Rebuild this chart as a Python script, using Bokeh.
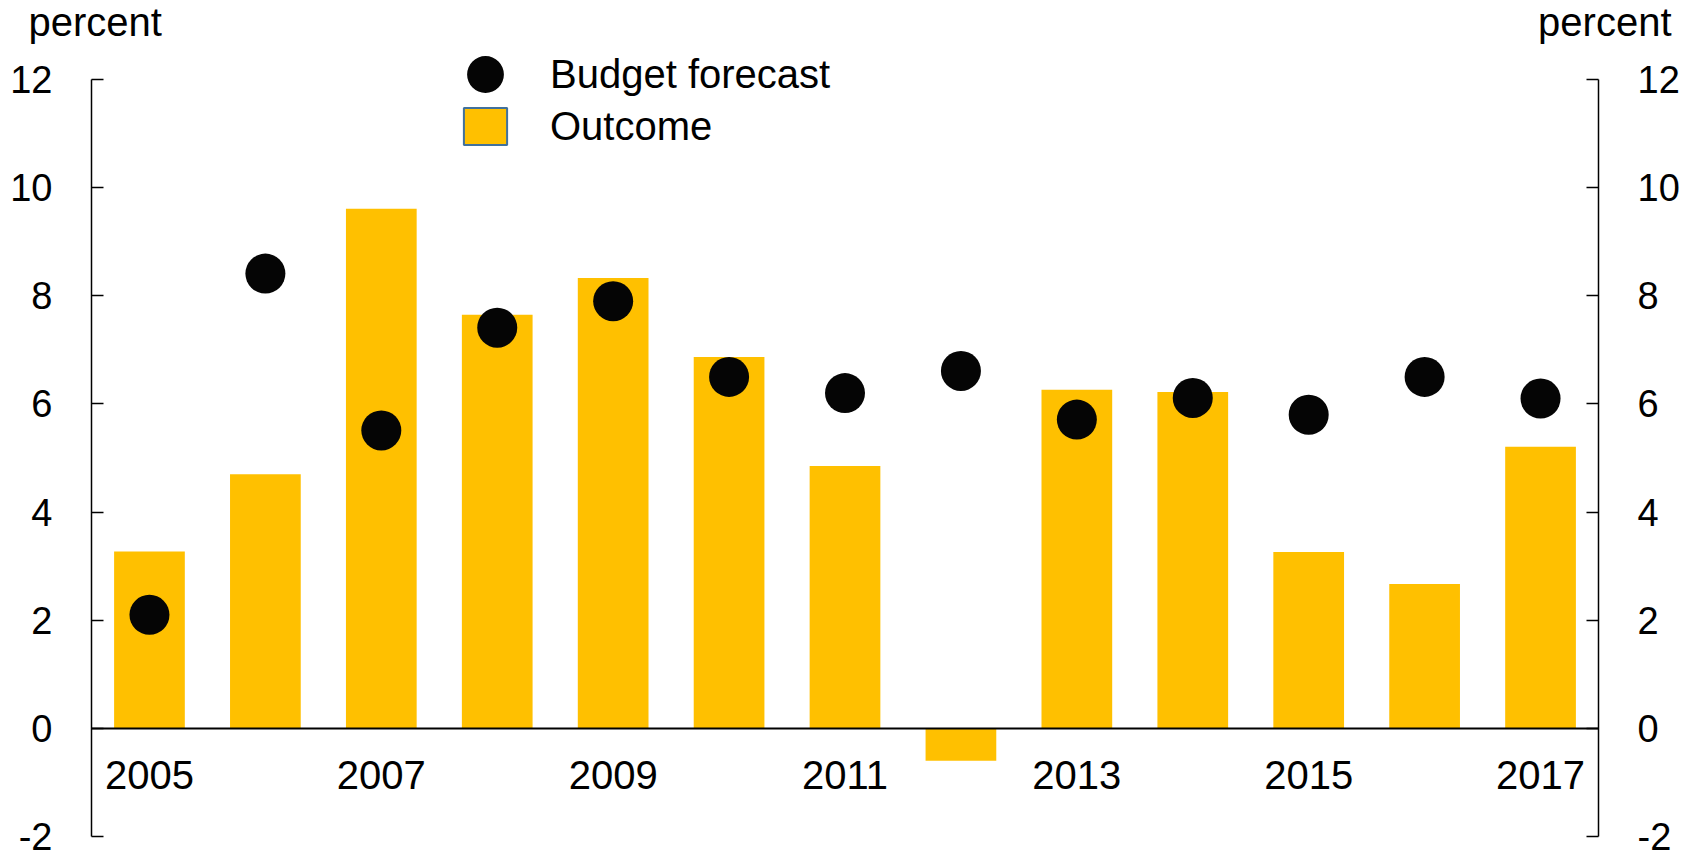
from bokeh.plotting import figure
from bokeh.models import (ColumnDataSource, Range1d, LinearAxis, FixedTicker,
                          Legend, LegendItem, Label)
from bokeh.embed import file_html
from bokeh.resources import INLINE

# ---- data ----
years = [2005, 2006, 2007, 2008, 2009, 2010, 2011, 2012, 2013, 2014, 2015, 2016, 2017]
outcome = [3.27, 4.70, 9.61, 7.65, 8.33, 6.87, 4.85, -0.60, 6.26, 6.22, 3.26, 2.67, 5.21]
budget_forecast = [2.10, 8.41, 5.51, 7.41, 7.90, 6.50, 6.20, 6.61, 5.71, 6.11, 5.80, 6.50, 6.10]
x_tick_labels = [2005, 2007, 2009, 2011, 2013, 2015, 2017]
y_ticks = [-2, 0, 2, 4, 6, 8, 10, 12]
y_unit = "percent"
series_names = ["Budget forecast", "Outcome"]

BAR = "#FFC000"
DOT = "#050505"
FONT = "Liberation Sans"

# ---- layout (pixels) ----
W, H = 1687, 852
AX_L, AX_R, AX_T, AX_B = 91, 1598, 79, 836

x0, x1 = years[0] - 0.5, years[-1] + 0.5
y0, y1 = y_ticks[0], y_ticks[-1]
sx = (AX_R - AX_L) / (x1 - x0)
sy = (AX_B - AX_T) / (y1 - y0)
x_range = Range1d(x0 - AX_L / sx, x1 + (W - AX_R) / sx)
y_range = Range1d(y0 - (H - AX_B) / sy, y1 + AX_T / sy)

src = ColumnDataSource(dict(year=years, outcome=outcome, forecast=budget_forecast))

p = figure(width=W, height=H, x_range=x_range, y_range=y_range,
           output_backend="svg", toolbar_location=None,
           min_border_left=0, min_border_right=0,
           min_border_top=0, min_border_bottom=0)
p.outline_line_color = None
p.xgrid.visible = False
p.ygrid.visible = False
p.background_fill_color = "white"
p.border_fill_color = "white"

bars = p.vbar(x="year", top="outcome", bottom=0, width=0.61, source=src,
              fill_color=BAR, line_color=None)
bars_leg = p.vbar(x="year", top="outcome", bottom=0, width=0.61, source=src,
                  fill_color=BAR, line_color="#41719C", line_width=2, visible=False)
dots = p.ellipse(x="year", y="forecast", width=40, height=40,
                 width_units="screen", height_units="screen",
                 source=src, fill_color=DOT, line_color=None)

# x axis at zero
xa = p.xaxis[0]
xa.fixed_location = 0
xa.bounds = (x0, x1)
xa.ticker = FixedTicker(ticks=x_tick_labels)
xa.major_tick_in = 0
xa.major_tick_out = 0
xa.minor_tick_line_color = None
xa.axis_line_color = "black"
xa.axis_line_width = 2
xa.major_label_standoff = 33
xa.major_label_text_font = FONT
xa.major_label_text_font_size = "40px"
xa.major_label_text_color = "black"

# y axes at the ends of the category band
p.add_layout(LinearAxis(), "right")
p.yaxis[0].fixed_location = x0
p.yaxis[1].fixed_location = x1
for ya in p.yaxis:
    ya.bounds = (y0, y1)
    ya.ticker = FixedTicker(ticks=y_ticks)
    ya.major_label_overrides = {t: str(t) for t in y_ticks}
    ya.major_tick_in = 12
    ya.major_tick_out = 0
    ya.minor_tick_line_color = None
    ya.axis_line_color = "black"
    ya.axis_line_width = 1.5
    ya.major_tick_line_width = 1.5
    ya.major_tick_line_color = "black"
    ya.major_label_standoff = 39
    ya.major_label_text_font = FONT
    ya.major_label_text_font_size = "38px"
    ya.major_label_text_color = "black"

# unit labels
p.add_layout(Label(x=x0, y=y1, x_offset=-63, y_offset=58,
                   text=y_unit, text_font=FONT, text_font_size="40px",
                   text_align="left", text_baseline="alphabetic", text_color="black"))
p.add_layout(Label(x=x1, y=y1, x_offset=73, y_offset=58,
                   text=y_unit, text_font=FONT, text_font_size="40px",
                   text_align="right", text_baseline="alphabetic", text_color="black"))

legend = Legend(items=[LegendItem(label=series_names[0], renderers=[dots]),
                       LegendItem(label=series_names[1], renderers=[bars_leg])],
                location=(458, 703), glyph_width=54, glyph_height=46,
                label_standoff=38, spacing=6, padding=0, margin=0,
                label_text_font=FONT, label_text_font_size="40px",
                label_text_color="black",
                border_line_color=None, background_fill_alpha=0,
                inactive_fill_alpha=0)
p.add_layout(legend)

open("out.html", "w").write(file_html(p, INLINE))
